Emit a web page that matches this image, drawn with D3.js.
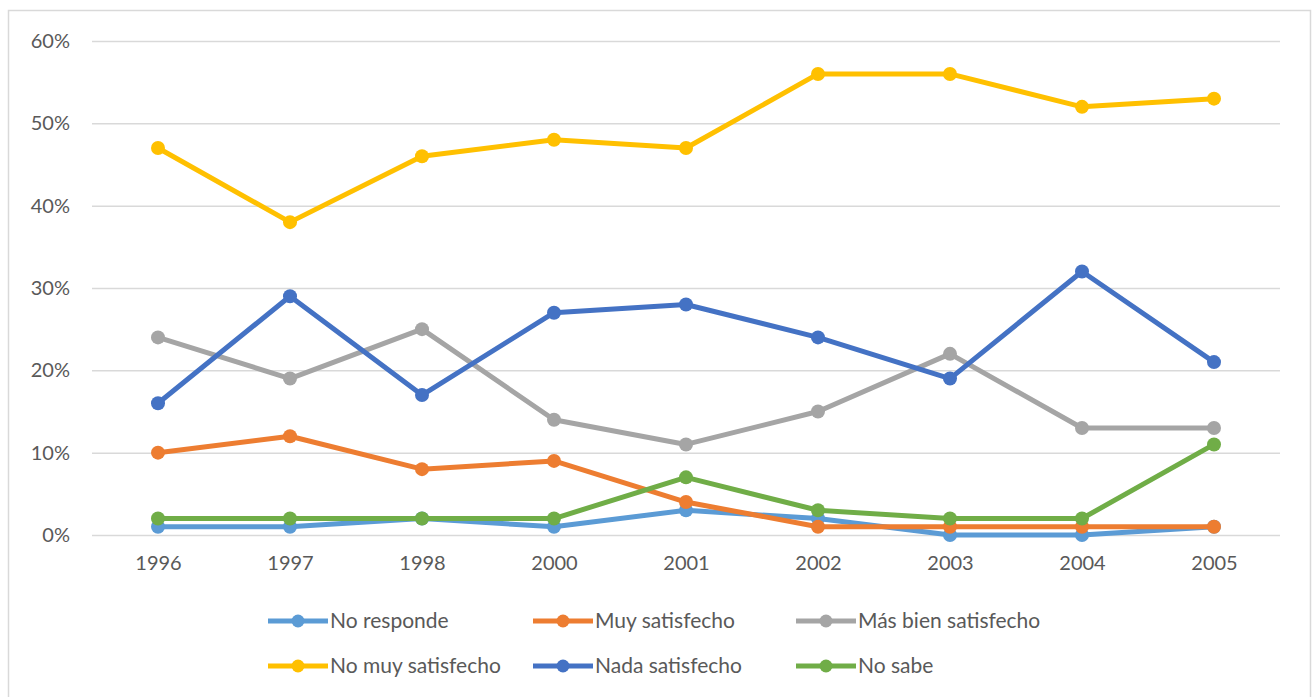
<!DOCTYPE html>
<html>
<head>
<meta charset="utf-8">
<script src="https://cdn.jsdelivr.net/npm/d3@7"></script>
<style>
  body { margin: 0; background: #fff; }
  text { font-family: Lato, "Open Sans", sans-serif; }
</style>
</head>
<body>
<div id="chart-area"></div>
<script>
// Years along the x axis
const years = ["1996", "1997", "1998", "2000", "2001", "2002", "2003", "2004", "2005"];

// Series values in percent
const noResponde = [1, 1, 2, 1, 3, 2, 0, 0, 1];
const muySatisfecho = [10, 12, 8, 9, 4, 1, 1, 1, 1];
const masBienSatisfecho = [24, 19, 25, 14, 11, 15, 22, 13, 13];
const noMuySatisfecho = [47, 38, 46, 48, 47, 56, 56, 52, 53];
const nadaSatisfecho = [16, 29, 17, 27, 28, 24, 19, 32, 21];
const noSabe = [2, 2, 2, 2, 7, 3, 2, 2, 11];

const yTicks = [0, 10, 20, 30, 40, 50, 60];

const series = [
    {name: "No responde", values: noResponde, color: "#5B9BD5"},
    {name: "Muy satisfecho", values: muySatisfecho, color: "#ED7D31"},
    {name: "Más bien satisfecho", values: masBienSatisfecho, color: "#A5A5A5"},
    {name: "No muy satisfecho", values: noMuySatisfecho, color: "#FFC000"},
    {name: "Nada satisfecho", values: nadaSatisfecho, color: "#4472C4"},
    {name: "No sabe", values: noSabe, color: "#70AD47"}
];

const width = 1314;
const height = 697;

const svg = d3.select("#chart-area")
    .append("svg")
    .attr("width", width)
    .attr("height", height);

// outer frame
svg.append("rect")
    .attr("x", 8.5)
    .attr("y", 10.5)
    .attr("width", 1302)
    .attr("height", 700)
    .attr("fill", "#fff")
    .attr("stroke", "#d9d9d9")
    .attr("stroke-width", 1.5);

const x = d3.scalePoint()
    .domain(years)
    .range([92, 1280])
    .padding(0.5);

const y = d3.scaleLinear()
    .domain([0, 60])
    .range([535, 41]);

// gridlines + y labels
const yAxis = d3.axisLeft(y)
    .tickValues(yTicks)
    .tickSize(-(1280 - 92))
    .tickPadding(22)
    .tickFormat(d => d + "%");

const gy = svg.append("g")
    .attr("transform", "translate(92,0)")
    .call(yAxis);
gy.select(".domain").remove();
gy.selectAll(".tick line").attr("stroke", "#d9d9d9").attr("stroke-width", 1.5);
gy.selectAll(".tick text")
    .attr("fill", "#595959")
    .style("font-size", "20px");

// x labels
const xAxis = d3.axisBottom(x).tickSize(0).tickPadding(21);
const gx = svg.append("g")
    .attr("transform", "translate(0,535)")
    .call(xAxis);
gx.select(".domain").remove();
gx.selectAll(".tick text")
    .attr("fill", "#595959")
    .style("font-size", "20px");

const line = d3.line()
    .x((d, i) => x(years[i]))
    .y(d => y(d));

// Draw the lines and markers
series.forEach(s => {
    svg.append("path")
        .datum(s.values)
        .attr("d", line)
        .attr("fill", "none")
        .attr("stroke", s.color)
        .attr("stroke-width", 5)
        .attr("stroke-linejoin", "round");

    svg.selectAll(null)
        .data(s.values)
        .enter()
        .append("circle")
        .attr("cx", (d, i) => x(years[i]))
        .attr("cy", d => y(d))
        .attr("r", 7)
        .attr("fill", s.color);
});

// legend, two rows of three
const legendCols = [330, 595, 858];
const legendRows = [621, 666];
series.forEach((s, i) => {
    const tx = legendCols[i % 3];
    const ty = legendRows[Math.floor(i / 3)];
    const g = svg.append("g");
    g.append("line")
        .attr("x1", tx - 62)
        .attr("x2", tx - 2)
        .attr("y1", ty)
        .attr("y2", ty)
        .attr("stroke", s.color)
        .attr("stroke-width", 5);
    g.append("circle")
        .attr("cx", tx - 32)
        .attr("cy", ty)
        .attr("r", 6.5)
        .attr("fill", s.color);
    g.append("text")
        .attr("x", tx)
        .attr("y", ty)
        .attr("dy", "0.35em")
        .attr("fill", "#595959")
        .style("font-size", "21px")
        .text(s.name);
});
</script>
</body>
</html>
